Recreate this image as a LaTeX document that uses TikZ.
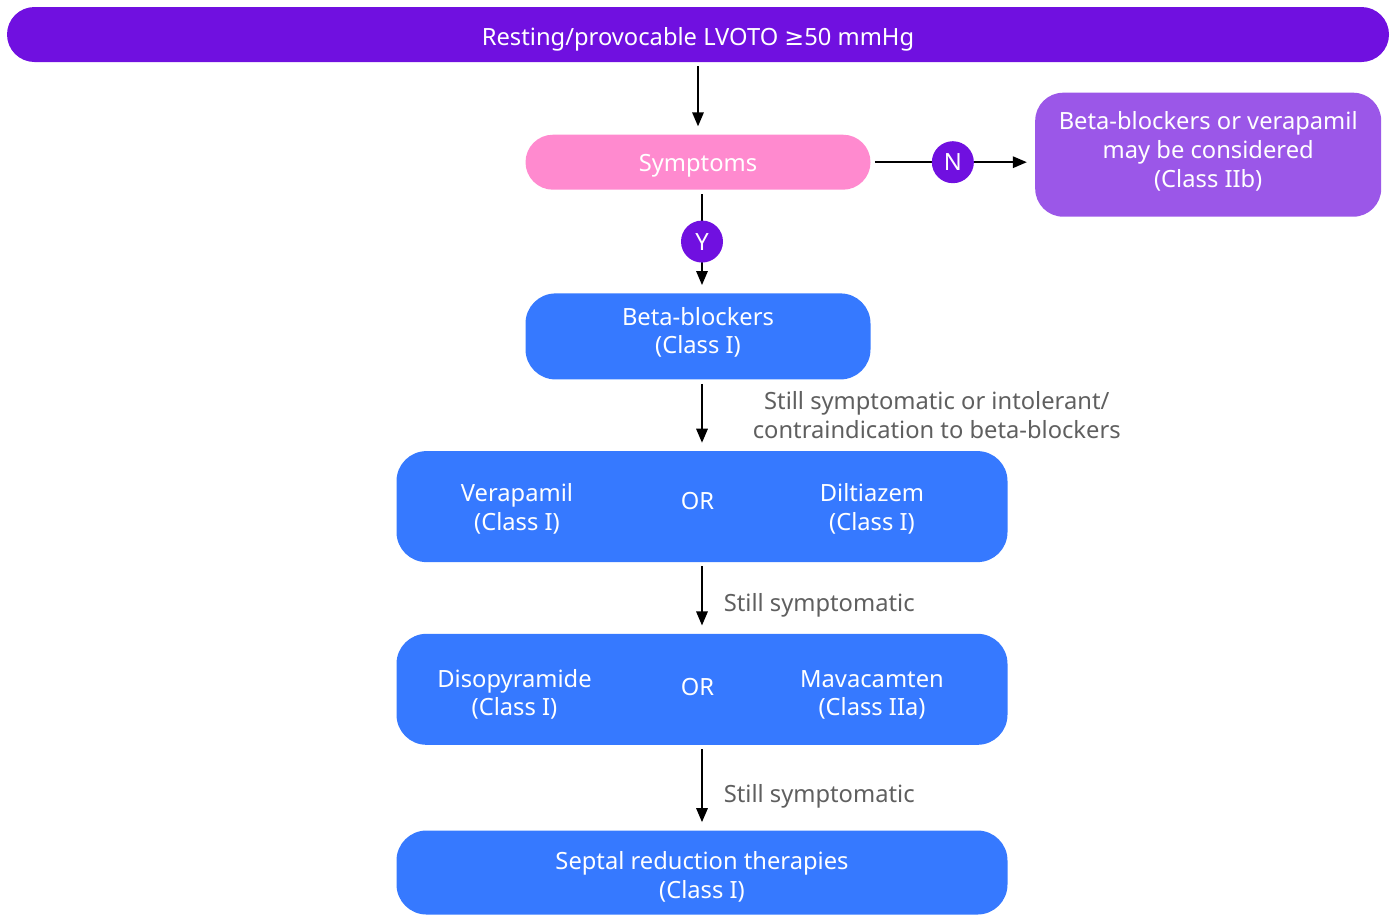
\documentclass[tikz,border=0pt]{standalone}
\usepackage{fontspec}
\setmainfont{Noto Sans}
\newfontfamily\symfont{DejaVu Sans}
\usepackage{tikz}
\usetikzlibrary{shapes,
                arrows.meta,
                positioning}
\definecolor{violetbar}{HTML}{7010E0}
\definecolor{pinkpill}{HTML}{FF8ACF}
\definecolor{bluebox}{HTML}{3679FF}
\definecolor{purplebox}{HTML}{9B57E8}
\definecolor{notegray}{HTML}{5F5F5F}
\tikzstyle{topbar} = [rectangle, rounded corners=0.55cm, minimum width=27.64cm, minimum height=1.1cm, text centered, text height=0.45cm, text depth=0cm, fill=violetbar, text=white]
\tikzstyle{pill} = [rectangle, rounded corners=0.55cm, minimum width=6.9cm, minimum height=1.1cm, text centered, text height=0.38cm, text depth=0cm, fill=pinkpill, text=white]
\tikzstyle{drug} = [rectangle, rounded corners=0.6cm, minimum width=6.9cm, minimum height=1.72cm, align=center, fill=bluebox, text=white]
\tikzstyle{widedrug} = [drug, minimum width=12.22cm, minimum height=2.22cm]
\tikzstyle{option} = [rectangle, rounded corners=0.56cm, minimum width=6.92cm, minimum height=2.48cm, align=center, fill=purplebox, text=white]
\tikzstyle{inbox} = [align=center, text=white]
\tikzstyle{yesno} = [circle, minimum size=0.84cm, inner sep=0pt, fill=violetbar, text=white]
\tikzstyle{note} = [align=center, text=notegray]
\tikzstyle{arrow} = [line width=1.1pt, -{Triangle[length=8pt,width=6.5pt]}, shorten >=0.16cm, shorten <=0.08cm]

\begin{document}
\begin{tikzpicture}[font=\fontsize{13.5}{16.4}\selectfont]
\useasboundingbox (0,0) rectangle (27.9,-18.32);
\node (lvoto) [topbar] at (13.96,-0.69) {Resting/provocable LVOTO {\symfont ≥}50 mmHg};
\node (symptoms) [pill, below=1.44cm of lvoto] {Symptoms};
\node (option) [option, text depth=0.215cm, right=3.28cm of symptoms, yshift=0.15cm] {Beta-blockers or verapamil\\may be considered\\(Class IIb)};
\node (beta) [drug, text depth=0.235cm, below=2.06cm of symptoms] {Beta-blockers\\(Class I)};
\node (verdil) [widedrug, below=1.42cm of beta, xshift=0.08cm] {};
\node (diso) [widedrug, below=1.42cm of verdil] {};
\node (septal) [drug, text height=1.12cm, text depth=0.1cm, minimum width=12.22cm, minimum height=1.68cm, below=1.70cm of diso] {Septal reduction therapies\\(Class I)};
% texts inside the wide boxes
\node (or1) [inbox, xshift=-0.09cm, yshift=0.12cm] at (verdil) {OR};
\node (vera) [inbox, xshift=-3.7cm, yshift=-0.04cm] at (verdil) {Verapamil\\(Class I)};
\node (dilt) [inbox, xshift=3.4cm, yshift=-0.04cm] at (verdil) {Diltiazem\\(Class I)};
\node (or2) [inbox, xshift=-0.09cm, yshift=0.04cm] at (diso) {OR};
\node (disop) [inbox, xshift=-3.75cm, yshift=-0.1cm] at (diso) {Disopyramide\\(Class I)};
\node (mava) [inbox, xshift=3.4cm, yshift=-0.11cm] at (diso) {Mavacamten\\(Class IIa)};
% connectors
\draw [arrow] (lvoto) -- (symptoms);
\draw [arrow] (symptoms.east) -- node[yesno] (no) {N} (symptoms.east -| option.west);
\draw [arrow] (symptoms.south -| verdil) -- node[yesno] (yes) {Y} (beta.north -| verdil);
\draw [arrow] (beta.south -| verdil) -- node[note, right=0.88cm] (intol) {Still symptomatic or intolerant/\\contraindication to beta-blockers} (verdil);
\draw [arrow] (verdil) -- node[note, right=0.3cm, yshift=-0.14cm] (still1) {Still symptomatic} (diso);
\draw [arrow] (diso) -- node[note, right=0.3cm, yshift=-0.18cm] (still2) {Still symptomatic} (septal);
\end{tikzpicture}
\end{document}
